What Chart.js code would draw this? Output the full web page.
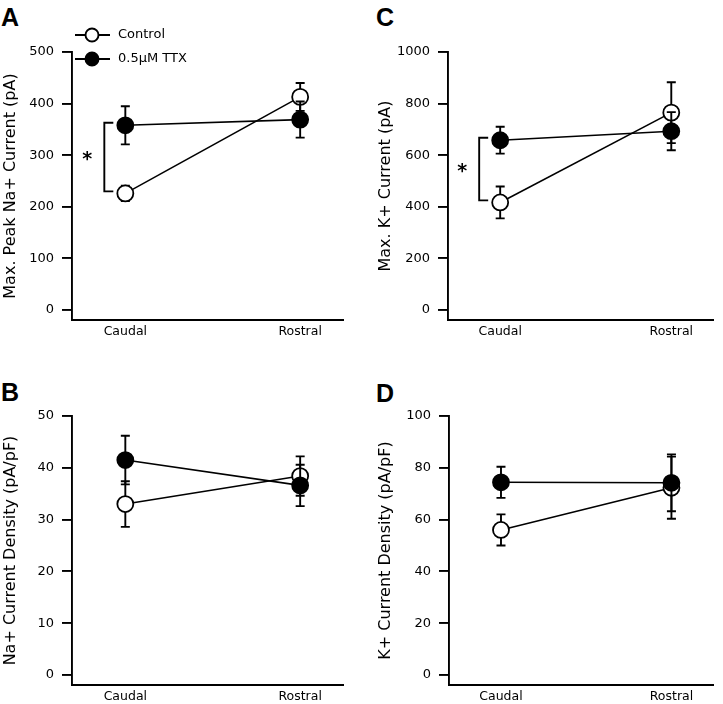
<!DOCTYPE html>
<html>
<head>
<meta charset="utf-8">
<script src="https://cdn.jsdelivr.net/npm/chart.js@4"></script>
<style>
  body { margin: 0; background: #fff; width: 723px; height: 704px; position: relative; overflow: hidden; }
  canvas { position: absolute; }
  .letter { position: absolute; font: bold 25px "Liberation Sans", Arial, sans-serif; line-height: 24px; color: #000; }
</style>
</head>
<body>
<div class="letter" style="left:1px;top:5px">A</div>
<div class="letter" style="left:376px;top:5px">C</div>
<div class="letter" style="left:1px;top:380px">B</div>
<div class="letter" style="left:376px;top:381px">D</div>

<canvas id="chartA" width="360" height="350" style="left:0;top:0"></canvas>
<canvas id="chartC" width="348" height="350" style="left:375px;top:0"></canvas>
<canvas id="chartB" width="360" height="344" style="left:0;top:360px"></canvas>
<canvas id="chartD" width="348" height="344" style="left:375px;top:360px"></canvas>

<script>
/* =========================================================
   DATA
========================================================= */
const regions = ["Caudal", "Rostral"];
const regionX = [0, 1];
const seriesNames = ["Control", "0.5\u03bcM TTX"];

// A: max peak Na+ current (pA)
const naPeakCtl = [226, 413];
const naPeakCtlErr = [15, 27];
const naPeakTtx = [358, 369];
const naPeakTtxErr = [37, 35];
const naPeakTicks = [0, 100, 200, 300, 400, 500];

// B: Na+ current density (pA/pF)
const naDensCtl = [33, 38.4];
const naDensCtlErr = [4.4, 3.8];
const naDensTtx = [41.5, 36.6];
const naDensTtxErr = [4.7, 4.0];
const naDensTicks = [0, 10, 20, 30, 40, 50];

// C: max K+ current (pA)
const kPeakCtl = [417, 765];
const kPeakCtlErr = [62, 118];
const kPeakTtx = [658, 693];
const kPeakTtxErr = [52, 74];
const kPeakTicks = [0, 200, 400, 600, 800, 1000];

// D: K+ current density (pA/pF)
const kDensCtl = [56, 72.3];
const kDensCtlErr = [6, 12];
const kDensTtx = [74.4, 74.2];
const kDensTtxErr = [6, 11];
const kDensTicks = [0, 20, 40, 60, 80, 100];

/* =========================================================
   PLUGINS
========================================================= */
const FONT = "'DejaVu Sans', sans-serif";
const LW = 1.9;

const errorBars = {
  id: "errorBars",
  beforeDatasetDraw(chart, args) {
    const ds = chart.data.datasets[args.index];
    const xs = chart.scales.x;
    const ys = chart.scales.y;
    const ctx = chart.ctx;
    ctx.save();
    ctx.strokeStyle = "#000";
    ctx.lineWidth = LW;
    ds.data.forEach((p, i) => {
      const px = xs.getPixelForValue(p.x);
      const top = ys.getPixelForValue(p.y + ds.err[i]);
      const bot = ys.getPixelForValue(p.y - ds.err[i]);
      ctx.beginPath();
      ctx.moveTo(px, top); ctx.lineTo(px, bot);
      ctx.moveTo(px - 4.5, top); ctx.lineTo(px + 4.5, top);
      ctx.moveTo(px - 4.5, bot); ctx.lineTo(px + 4.5, bot);
      ctx.stroke();
    });
    ctx.restore();
  }
};

function sigBracket(show) {
  return {
    id: "sigBracket",
    afterDatasetsDraw(chart) {
      if (!show) return;
      const ctx = chart.ctx;
      const xs = chart.scales.x;
      const ys = chart.scales.y;
      const ttx = chart.data.datasets[0].data[0];
      const ctl = chart.data.datasets[1].data[0];
      const px = xs.getPixelForValue(0);
      const y1 = ys.getPixelForValue(ttx.y) - 2.5;
      const y2 = ys.getPixelForValue(ctl.y) - 2;
      ctx.save();
      ctx.strokeStyle = "#000";
      ctx.lineWidth = LW;
      ctx.beginPath();
      ctx.moveTo(px - 12, y1);
      ctx.lineTo(px - 21, y1);
      ctx.lineTo(px - 21, y2);
      ctx.lineTo(px - 12, y2);
      ctx.stroke();
      ctx.fillStyle = "#000";
      ctx.font = "bold 19px " + FONT;
      ctx.textAlign = "center";
      ctx.textBaseline = "middle";
      ctx.fillText("*", px - 38, (y1 + y2) / 2 + 3);
      ctx.restore();
    }
  };
}

function legendBox(show) {
  return {
    id: "legendBox",
    afterDraw(chart) {
      if (!show) return;
      const ctx = chart.ctx;
      const rows = [35, 59];
      ctx.save();
      ctx.lineWidth = LW;
      ctx.strokeStyle = "#000";
      ctx.font = "13px " + FONT;
      ctx.textBaseline = "middle";
      rows.forEach((y, i) => {
        ctx.beginPath();
        ctx.moveTo(75, y); ctx.lineTo(110, y);
        ctx.stroke();
        ctx.beginPath();
        ctx.arc(92, y, 6.5, 0, Math.PI * 2);
        ctx.fillStyle = i === 0 ? "#fff" : "#000";
        ctx.fill();
        ctx.stroke();
        ctx.fillStyle = "#000";
        ctx.fillText(seriesNames[i], 118, y);
      });
      ctx.restore();
    }
  };
}

/* =========================================================
   PANEL BUILDER
========================================================= */
function makePanel(id, p) {
  const toPts = arr => regionX.map((x, i) => ({ x: x, y: arr[i] }));
  const yMax = p.ticks[p.ticks.length - 1];

  return new Chart(document.getElementById(id), {
    type: "line",
    data: {
      datasets: [
        {
          label: seriesNames[1],
          data: toPts(p.ttx),
          err: p.ttxErr,
          order: 1,
          borderColor: "#000",
          borderWidth: 1.6,
          pointRadius: 8,
          pointBorderWidth: 1.8,
          pointBackgroundColor: "#000",
          pointBorderColor: "#000"
        },
        {
          label: seriesNames[0],
          data: toPts(p.ctl),
          err: p.ctlErr,
          order: 2,
          borderColor: "#000",
          borderWidth: 1.6,
          pointRadius: 8,
          pointBorderWidth: 1.8,
          pointBackgroundColor: "#fff",
          pointBorderColor: "#000"
        }
      ]
    },
    options: {
      responsive: false,
      animation: false,
      layout: { padding: { left: 0, top: p.padTop, right: p.padRight, bottom: 0 } },
      plugins: { legend: { display: false }, tooltip: { enabled: false } },
      scales: {
        x: {
          type: "linear",
          min: -0.305,
          max: 1.245,
          afterBuildTicks: s => { s.ticks = regionX.map(v => ({ value: v })); },
          afterFit: s => { s.height = p.xHeight; },
          grid: { display: true, drawOnChartArea: false, drawTicks: false },
          border: { display: true, color: "#000", width: LW },
          ticks: {
            color: "#000",
            font: { family: FONT, size: 12.5 },
            padding: 4,
            maxRotation: 0,
            autoSkip: false,
            callback: (v, i) => regions[i]
          }
        },
        y: {
          min: -yMax * 0.0387,
          max: yMax,
          afterBuildTicks: s => { s.ticks = p.ticks.map(v => ({ value: v })); },
          afterFit: s => { s.width = p.yWidth; },
          grid: { drawOnChartArea: false, drawTicks: true, tickLength: 10, color: "#000", lineWidth: LW },
          border: { display: true, color: "#000", width: LW },
          ticks: {
            color: "#000",
            font: { family: FONT, size: 13 },
            padding: 8,
            callback: v => String(v)
          },
          title: {
            display: true,
            text: p.title,
            color: "#000",
            font: { family: FONT, size: 16 },
            padding: { top: 1, bottom: 0 }
          }
        }
      }
    },
    plugins: [errorBars, sigBracket(p.bracket), legendBox(p.legend)]
  });
}

/* =========================================================
   PANELS
========================================================= */
makePanel("chartA", {
  ctl: naPeakCtl, ctlErr: naPeakCtlErr, ttx: naPeakTtx, ttxErr: naPeakTtxErr,
  ticks: naPeakTicks, title: "Max. Peak Na+ Current (pA)",
  padTop: 52, padRight: 17, yWidth: 72, xHeight: 30,
  bracket: true, legend: true
});

makePanel("chartC", {
  ctl: kPeakCtl, ctlErr: kPeakCtlErr, ttx: kPeakTtx, ttxErr: kPeakTtxErr,
  ticks: kPeakTicks, title: "Max. K+ Current (pA)",
  padTop: 52, padRight: 3, yWidth: 73, xHeight: 30,
  bracket: true, legend: false
});

makePanel("chartB", {
  ctl: naDensCtl, ctlErr: naDensCtlErr, ttx: naDensTtx, ttxErr: naDensTtxErr,
  ticks: naDensTicks, title: "Na+ Current Density (pA/pF)",
  padTop: 56, padRight: 17, yWidth: 72, xHeight: 19,
  bracket: false, legend: false
});

makePanel("chartD", {
  ctl: kDensCtl, ctlErr: kDensCtlErr, ttx: kDensTtx, ttxErr: kDensTtxErr,
  ticks: kDensTicks, title: "K+ Current Density (pA/pF)",
  padTop: 56, padRight: 3, yWidth: 74, xHeight: 19,
  bracket: false, legend: false
});
</script>
</body>
</html>
